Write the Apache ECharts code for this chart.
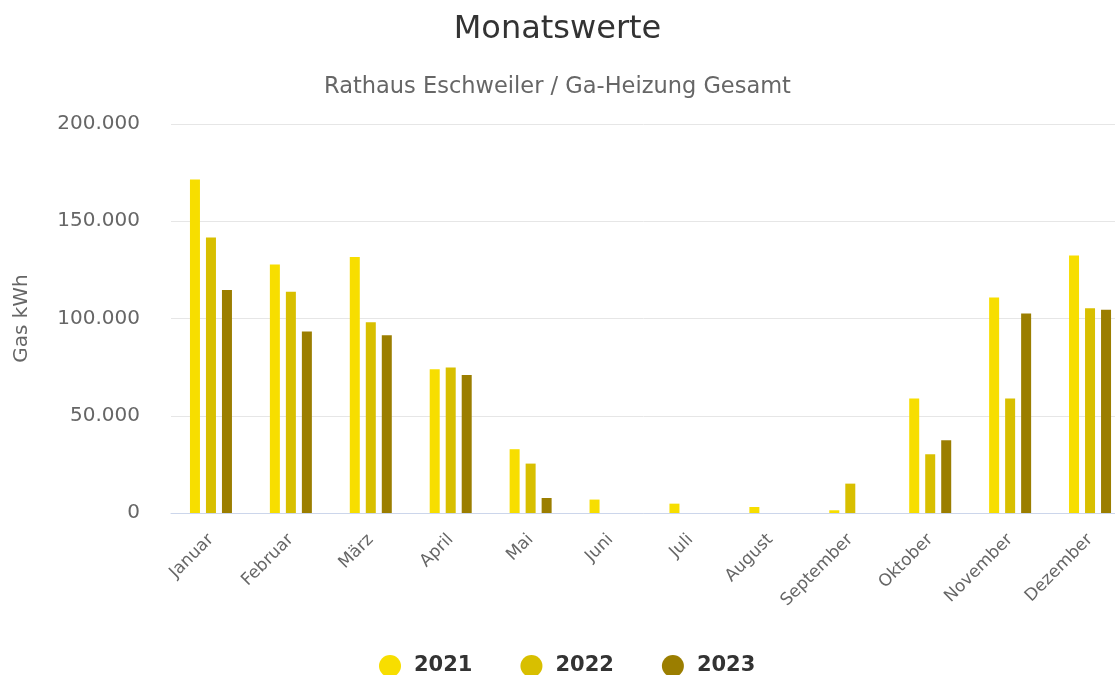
<!DOCTYPE html>
<html>
<head>
<meta charset="utf-8">
<script src="https://cdn.jsdelivr.net/npm/echarts@6/dist/echarts.min.js"></script>
<style>html,body{margin:0;padding:0;background:#fff}#c{width:1115px;height:675px}</style>
</head>
<body>
<div id="c"></div>
<script>
const months = ['Januar','Februar','März','April','Mai','Juni','Juli','August','September','Oktober','November','Dezember'];
const years = ['2021','2022','2023'];
const v2021 = [171500,127800,131600,73900,32800,6900,4800,3100,1400,58900,110800,132400];
const v2022 = [141700,113700,98100,74800,25400,0,0,0,15100,30200,58900,105300];
const v2023 = [114600,93300,91400,71000,7700,0,0,0,0,37400,102600,104500];
const colors = ['#F7DE00','#D8BF00','#9B7E00'];

const fmt = v => String(v).replace(/\B(?=(\d{3})+(?!\d))/g, '.');
const chart = echarts.init(document.getElementById('c'), null, {renderer:'canvas'});
const font = 'DejaVu Sans';
chart.setOption({
  animation:false,
  backgroundColor:'#fff',
  title:[
    {text:'Monatswerte', left:'center', top:9, textStyle:{fontFamily:font, fontSize:32, fontWeight:'normal', color:'#333'}},
    {text:'Rathaus Eschweiler / Ga-Heizung Gesamt', left:'center', top:71, textStyle:{fontFamily:font, fontSize:22.5, fontWeight:'normal', color:'#666'}}
  ],
  legend:{
    top:650, left:374, icon:'circle', itemWidth:22, itemHeight:22, itemGap:48,
    textStyle:{fontFamily:font, fontSize:21, fontWeight:'bold', color:'#333', padding:[0,0,0,8]},
    data:years
  },
  grid:{left:171, width:959, top:124, bottom:162, containLabel:false, outerBoundsMode:'none'},
  xAxis:{
    type:'category', data:months,
    axisLine:{lineStyle:{color:'#ccd6eb'}},
    axisTick:{show:false},
    axisLabel:{rotate:45, fontFamily:font, fontSize:17, color:'#666', margin:24, interval:0}
  },
  yAxis:{
    type:'value', min:0, max:200000, interval:50000,
    name:'Gas kWh', nameLocation:'middle', nameGap:139, nameRotate:90,
    nameTextStyle:{fontFamily:font, fontSize:20, color:'#666'},
    axisLabel:{fontFamily:font, fontSize:20, color:'#666', margin:31, formatter:v=>fmt(v)},
    splitLine:{lineStyle:{color:'#e6e6e6'}},
    axisLine:{show:false}, axisTick:{show:false}
  },
  series:[v2021,v2022,v2023].map((d,i)=>({
    name:years[i], type:'bar', data:d, barWidth:10, barGap:'60%',
    itemStyle:{color:colors[i]}
  }))
});
</script>
</body>
</html>
